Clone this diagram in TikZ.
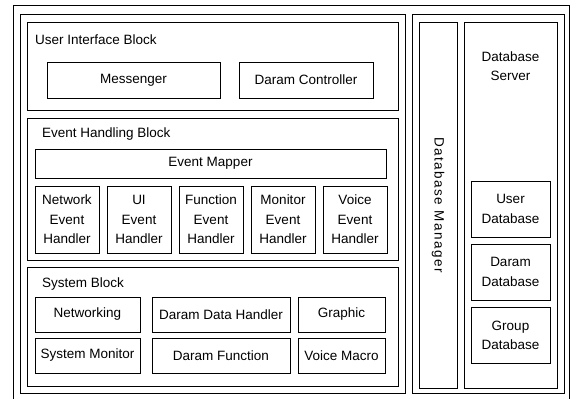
\documentclass[tikz,border=0pt]{standalone}
\usepackage{fontspec}
\setmainfont{Liberation Sans}

\tikzset{
  frame/.style={draw=black, line width=0.9pt},
  unit/.style={draw=black, line width=0.9pt, inner sep=0pt, align=center,
    font=\fontsize{13.5}{19.5}\selectfont},
  title/.style={anchor=west, inner sep=0pt, font=\fontsize{13.5}{19.5}\selectfont},
}

\begin{document}
\begin{tikzpicture}[x=1pt, y=-1pt]

  \useasboundingbox (0,0) rectangle (579,399);
  \clip (0,0) rectangle (579,399);

  % outer frame and the two halves
  \path[frame] (13,5) rectangle (569,402);
  \path[frame] (20,14) rectangle (405,393);
  \path[frame] (412,14) rectangle (564,393);

  % user interface block
  \path[frame] (27,22) rectangle (398,110);
  \node[title] (uititle) at (35,40) {User Interface Block};
  \node[unit, minimum width=173, minimum height=36] (messenger) at (133.5,80) {Messenger};
  \node[unit, minimum width=134, minimum height=36] (controller) at (306,80) {Daram Controller};

  % event handling block
  \path[frame] (27,118) rectangle (398,260);
  \node[title] (evtitle) at (42,134) {Event Handling Block};
  \node[unit, minimum width=351, minimum height=29] (mapper) at (210.5,163.5) {Event Mapper};
  \node[unit, minimum width=64, minimum height=67] (nethandler) at (67,219.5) {Network\\Event\\Handler};
  \node[unit, minimum width=64, minimum height=67] (uihandler) at (139,219.5) {UI\\Event\\Handler};
  \node[unit, minimum width=64, minimum height=67] (funchandler) at (211,219.5) {Function\\Event\\Handler};
  \node[unit, minimum width=64, minimum height=67] (monhandler) at (283,219.5) {Monitor\\Event\\Handler};
  \node[unit, minimum width=64, minimum height=67] (voicehandler) at (355,219.5) {Voice\\Event\\Handler};

  % system block
  \path[frame] (27,267) rectangle (398,386);
  \node[title] (systitle) at (42,284) {System Block};
  \node[unit, minimum width=105, minimum height=35] (networking) at (87.5,314.5) {Networking};
  \node[unit, minimum width=105, minimum height=35] (sysmonitor) at (87.5,355.5) {System Monitor};
  \node[unit, minimum width=138, minimum height=35] (datahandler) at (221,314.5) {Daram Data Handler};
  \node[unit, minimum width=138, minimum height=35] (function) at (221,355.5) {Daram Function};
  \node[unit, minimum width=87, minimum height=35] (graphic) at (341.5,314.5) {Graphic};
  \node[unit, minimum width=87, minimum height=35] (macro) at (341.5,355.5) {Voice Macro};

  % database side
  \node[unit, minimum width=38, minimum height=366] (dbmanager) at (438,205) {};
  \node[rotate=-90, inner sep=0pt, font=\fontsize{13.5}{19.5}\selectfont\addfontfeature{LetterSpace=11}] (dbmanagertext) at (dbmanager.center) {Database Manager};
  \node[unit, minimum width=93, minimum height=366] (dbserver) at (510.5,205) {};
  \node[inner sep=0pt, align=center, font=\fontsize{13.5}{19.5}\selectfont] (dbservertext) at (510.5,66) {Database\\Server};
  \node[unit, minimum width=79, minimum height=56] (userdb) at (510.5,209) {User\\Database};
  \node[unit, minimum width=79, minimum height=56] (daramdb) at (510.5,272) {Daram\\Database};
  \node[unit, minimum width=79, minimum height=56] (groupdb) at (510.5,335.5) {Group\\Database};
\end{tikzpicture}
\end{document}
